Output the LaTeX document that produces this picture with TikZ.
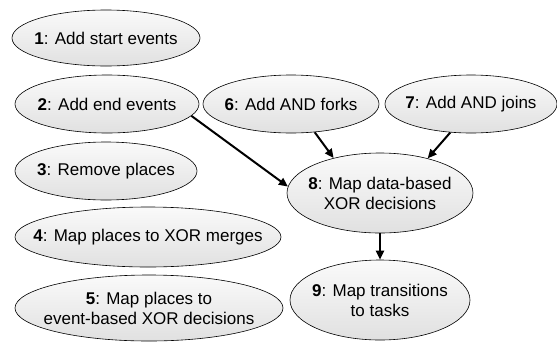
\documentclass[tikz,border=0pt]{standalone}
\usepackage{fontspec}
\setmainfont{Liberation Sans}
\usetikzlibrary{shapes.geometric,arrows.meta}
\begin{document}
\begin{tikzpicture}[x=1pt,y=-1pt,
  stepnode/.style={ellipse,draw=black,line width=0.6pt,top color=gray!4,bottom color=gray!24,
    inner sep=0pt,minimum width=#1},
  lbl/.style={align=center,font=\fontsize{17}{20}\selectfont,inner sep=0pt},
  conn/.style={line width=2pt,-{Triangle[length=9pt,width=8pt]}}]
\useasboundingbox (0,0) rectangle (557,341);
\node[stepnode=188pt,minimum height=56pt,label={[lbl]center:\textbf{1}: Add start events}] (n1) at (106,38) {};
\node[stepnode=184pt,minimum height=58pt,label={[lbl]center:\textbf{2}: Add end events}] (n2) at (107,104) {};
\node[stepnode=182pt,minimum height=58pt,label={[lbl]center:\textbf{3}: Remove places}] (n3) at (106,171) {};
\node[stepnode=266pt,minimum height=60pt,label={[lbl]center:\textbf{4}: Map places to XOR merges}] (n4) at (148,237) {};
\node[stepnode=268pt,minimum height=66pt,label={[lbl]center:\textbf{5}: Map places to\\event-based XOR decisions}] (n5) at (149,308) {};
\node[stepnode=176pt,minimum height=58pt,label={[lbl]center:\textbf{6}: Add AND forks}] (n6) at (291,104) {};
\node[stepnode=172pt,minimum height=58pt,label={[lbl]center:\textbf{7}: Add AND joins}] (n7) at (471,104) {};
\node[stepnode=186pt,minimum height=80pt,label={[lbl]center:\textbf{8}: Map data-based\\XOR decisions}] (n8) at (380,193) {};
\node[stepnode=180pt,minimum height=80pt,label={[lbl]center:\textbf{9}: Map transitions\\to tasks}] (n9) at (380,300) {};
\draw[conn] (n2.-8) -- (n8.176);
\draw[conn] (n6.-50) -- (n8.143);
\draw[conn] (n7.-126) -- (n8.36);
\draw[conn] (n8.south) -- (n9.north);
\end{tikzpicture}
\end{document}
